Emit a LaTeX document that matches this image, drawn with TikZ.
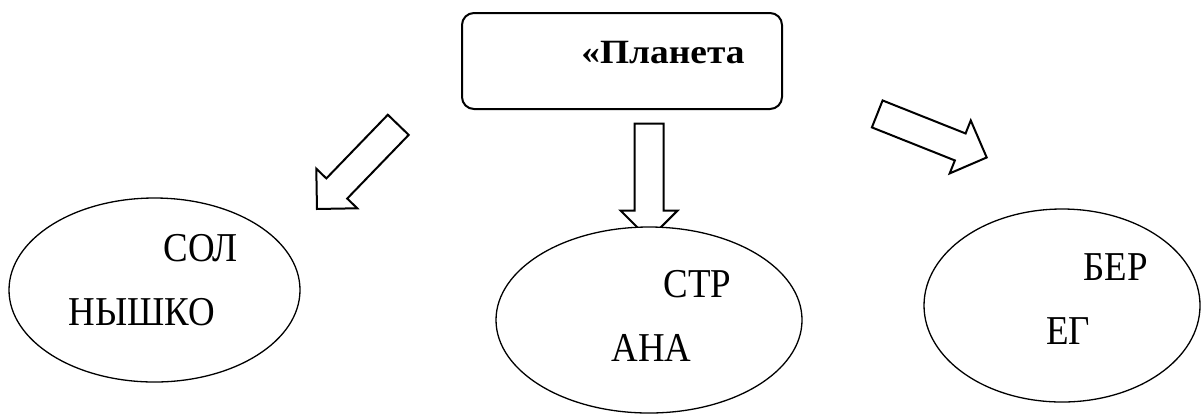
\documentclass[tikz,border=0pt]{standalone}
\usepackage{fontspec}
\setmainfont{Liberation Serif}
\newfontfamily\labelfont[FakeStretch=0.9]{Liberation Serif}
\newfontfamily\titlefont[FakeStretch=1.1]{Liberation Serif}
\usetikzlibrary{shapes,arrows}
\tikzstyle{titlebox} = [rectangle, draw, line width=1pt, rounded corners=6pt,
    minimum width=160pt, minimum height=48pt, inner sep=0pt]
\tikzstyle{oval} = [ellipse, draw, fill=white, line width=0.65pt, inner sep=0pt]
\tikzstyle{bigarrow} = [single arrow, draw, fill=white, line width=1pt, inner sep=6.75pt,
    minimum height=58.5pt, single arrow head extend=7pt,
    single arrow tip angle=90, anchor=tip]
\tikzstyle{lbl} = [inner sep=0pt, anchor=base west, font=\labelfont\fontsize{20.5pt}{24pt}\selectfont]
\tikzstyle{ttl} = [inner sep=0pt, anchor=base west, font=\titlefont\fontsize{17pt}{20pt}\selectfont\bfseries]
\begin{document}
\begin{tikzpicture}[x=0.5pt, y=-0.5pt]
    \useasboundingbox (0,0) rectangle (1202,414);
    % Place nodes
    \node [titlebox] (planet) at (622,61) {};
    \node [ttl] (planettext) at (581,63) {«Планета};

    % Draw arrows
    \node [bigarrow, rotate=-134] (arrowleft) at (316,210) {};
    \node [bigarrow, rotate=-90, minimum height=57.75pt] (arrowmid) at (649,240.5) {};
    \node [bigarrow, rotate=-21.7, minimum height=58.9pt] (arrowright) at (988,158) {};

    % Ovals
    \node [oval, minimum width=145.5pt, minimum height=92pt] (sun) at (154.5,290) {};
    \node [oval, minimum width=153pt, minimum height=93pt] (country) at (649,320) {};
    \node [oval, minimum width=138pt, minimum height=96.5pt] (shore) at (1062,305.5) {};

    % Labels
    \node [lbl] (sun1) at (163,261) {СОЛ};
    \node [lbl] (sun2) at (68,325) {НЫШКО};
    \node [lbl] (country1) at (663,297) {СТР};
    \node [lbl] (country2) at (611,361) {АНА};
    \node [lbl] (shore1) at (1083,280) {БЕР};
    \node [lbl] (shore2) at (1046,344) {ЕГ};
\end{tikzpicture}
\end{document}
